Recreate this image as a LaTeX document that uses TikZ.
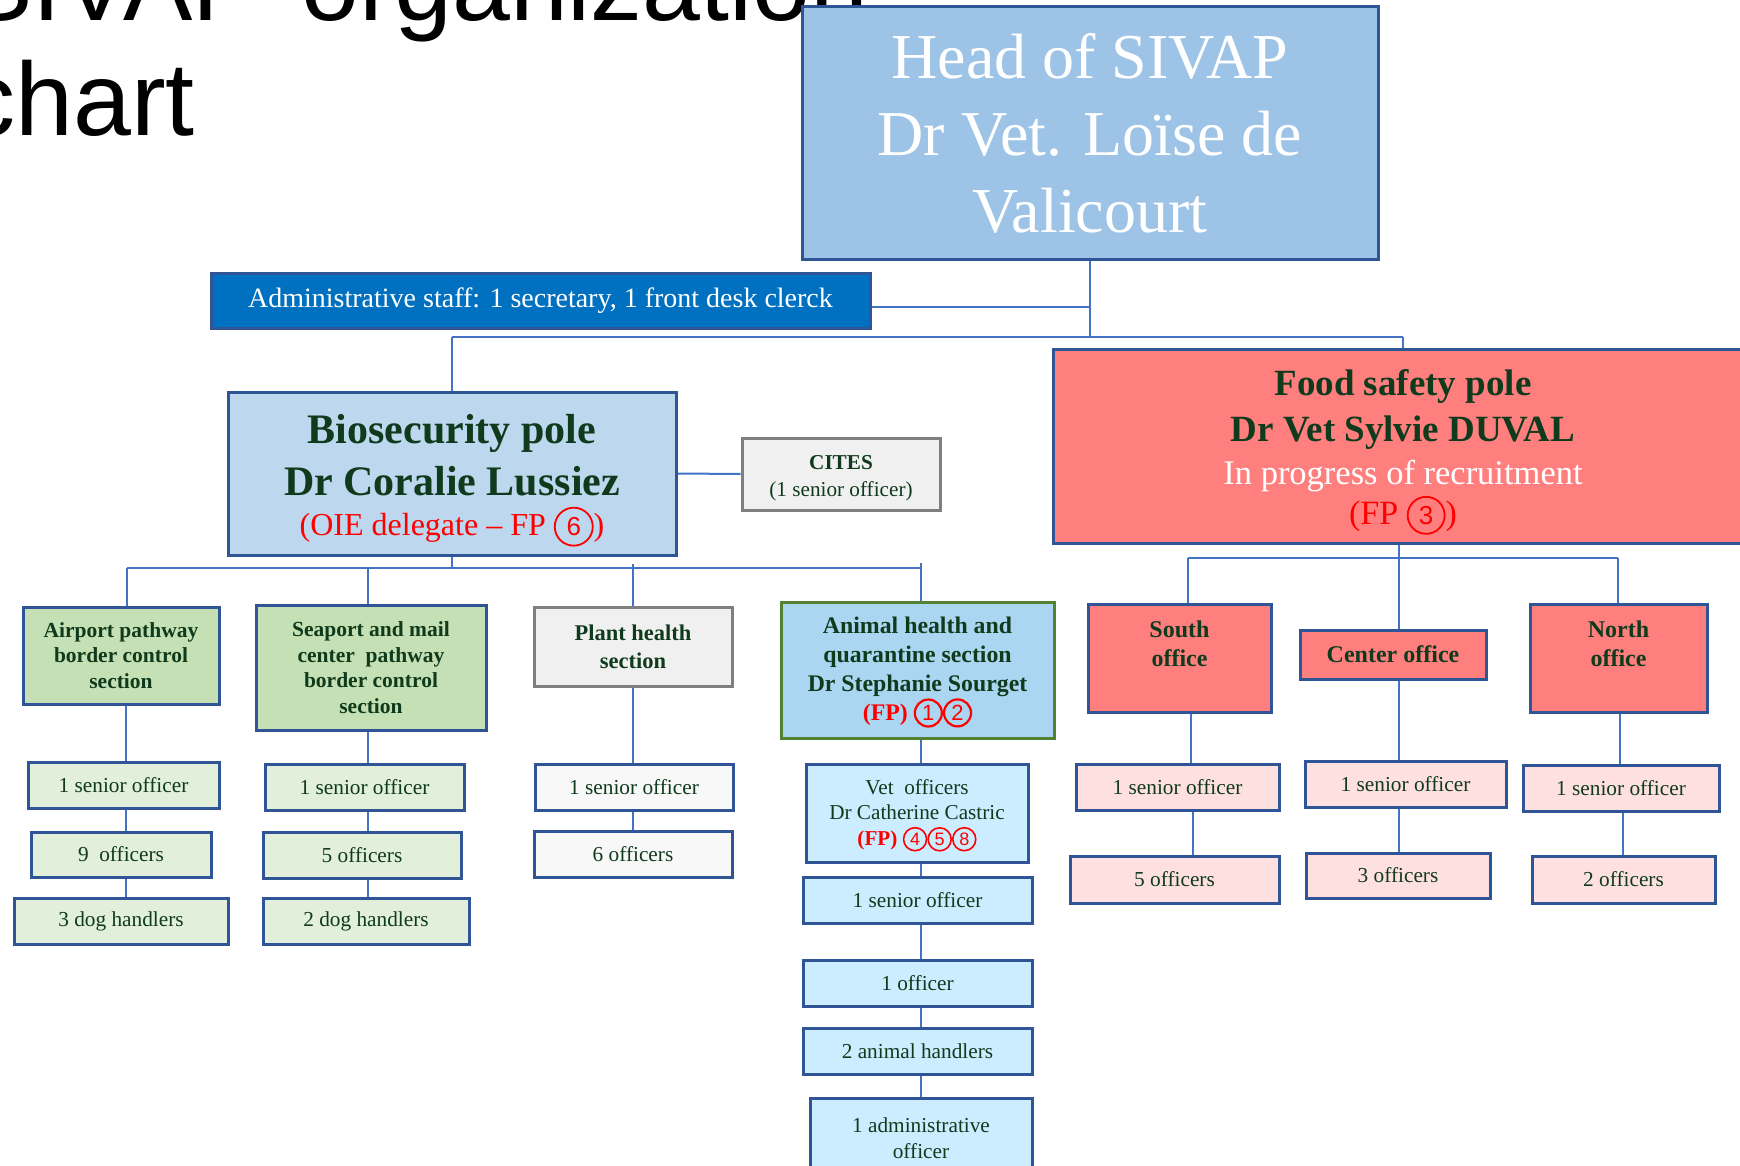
\documentclass[tikz,border=0pt]{standalone}
\usepackage{fontspec}
\setmainfont{Liberation Serif}
\newfontfamily\titlefont{Liberation Sans}
\usetikzlibrary{backgrounds}
\definecolor{connc}{HTML}{4472C4}
\definecolor{bord}{HTML}{2F5597}
\definecolor{headfill}{HTML}{9DC3E6}
\definecolor{adminfill}{HTML}{0070C0}
\definecolor{biofill}{HTML}{BDD7EE}
\definecolor{grayfill}{HTML}{F0F0F0}
\definecolor{grayb}{HTML}{7F7F7F}
\definecolor{foodfill}{HTML}{FF7F7F}
\definecolor{greenfill}{HTML}{C5E0B4}
\definecolor{lgreen}{HTML}{E2EFDA}
\definecolor{whitish}{HTML}{F8F8F8}
\definecolor{animfill}{HTML}{ABD6F1}
\definecolor{animb}{HTML}{548235}
\definecolor{vetfill}{HTML}{CCECFF}
\definecolor{pinkfill}{HTML}{FFE0E0}
\definecolor{tgreen}{HTML}{0F3A1C}
% circled digit: #1 diameter, #2 line width, #3 digit font size, #4 digit
\newcommand{\cdg}[4]{\tikz[baseline=(cdgn.base)]\node[draw=red, circle, line width=#2, inner sep=0pt, minimum size=#1, text=red, font=\titlefont\mdseries\fontsize{#3}{#3}\selectfont] (cdgn) {#4};}
\newcommand{\upr}[1]{\rule{0pt}{#1}}
\begin{document}
\begin{tikzpicture}[x=0.5pt,y=-0.5pt,
  box/.style={draw=bord, line width=1.5pt, inner sep=0pt, align=center, text=tgreen},
  wh/.style 2 args={minimum width={#1*0.5pt}, minimum height={#2*0.5pt}},
  conn/.style={draw=connc, line width=1pt},
  titlest/.style={inner sep=0pt, anchor=base west, font=\titlefont\fontsize{52}{60}\selectfont},
  sect/.style={box, fill=greenfill, font=\bfseries\fontsize{10.75}{12.75}\selectfont},
  small/.style={box, font=\fontsize{10.65}{13}\selectfont},
  office/.style={box, fill=foodfill, font=\bfseries\fontsize{12}{14.5}\selectfont}
]
\useasboundingbox (0,0) rectangle (1740,1166);

% title
\node[titlest] (t1) at (-37,21) {SIVAP\hspace{5.5pt} organization};
\node[titlest] (t2) at (-37,136) {chart};

% top level
\node[box, wh={576}{253}, fill=headfill, text=white, font=\fontsize{32}{38.5}\selectfont] (head) at (1090,133.5) {Head of SIVAP\\Dr Vet. Loïse de\\Valicourt};
\node[box, wh={659}{54}, fill=adminfill, text=white, font=\fontsize{14}{17}\selectfont] (admin) at (540.5,301) {Administrative staff: 1 secretary, 1 front desk clerck};

\node[box, wh={448}{163}, fill=biofill, font=\bfseries\fontsize{21}{26}\selectfont] (bio) at (452,473.5) {\upr{21.6pt}Biosecurity pole\\Dr Coralie Lussiez\\[-6pt]{\mdseries\fontsize{16}{20}\selectfont\color{red}(OIE delegate -- FP \cdg{19pt}{0.9pt}{13}{6})}};
\node[box, draw=grayb, wh={198}{72}, fill=grayfill, font=\fontsize{10.6}{13.5}\selectfont] (cites) at (841,474) {\upr{11.2pt}\textbf{CITES}\\(1 senior officer)};

\node[box, wh={700}{194}, fill=foodfill, font=\bfseries\fontsize{18.5}{23}\selectfont] (food) at (1403,446) {\upr{19pt}Food safety pole\\Dr Vet Sylvie DUVAL\\[-1.5pt]{\mdseries\fontsize{17.25}{20}\selectfont\color{white}In progress of recruitment}\\[-3pt]{\mdseries\fontsize{17}{20}\selectfont\color{red}(FP \cdg{18.5pt}{0.9pt}{13}{3})}};

% biosecurity sections
\node[sect, wh={196}{97}] (airport) at (121,655.5) {Airport pathway\\border control\\section};
\node[small, fill=lgreen, wh={191}{46}] (a1) at (123.5,785) {1 senior officer};
\node[small, fill=lgreen, wh={180}{45}] (a2) at (121,854.5) {9\ \ officers};
\node[small, fill=lgreen, wh={214}{46}] (a3) at (121,921) {3 dog handlers};

\node[sect, wh={230}{125}] (seaport) at (371,667.5) {Seaport and mail\\center\ \ pathway\\border control\\section};
\node[small, fill=lgreen, wh={199}{46}] (s1) at (364.5,787) {1 senior officer};
\node[small, fill=lgreen, wh={198}{46}] (s2) at (362,855) {5 officers};
\node[small, fill=lgreen, wh={206}{46}] (s3) at (366,921) {2 dog handlers};

\node[box, draw=grayb, fill=grayfill, wh={198}{79}, font=\bfseries\fontsize{11.25}{14}\selectfont] (plant) at (633,646.5) {Plant health\\section};
\node[small, fill=whitish, wh={198}{46}] (p1) at (634,787) {1 senior officer};
\node[small, fill=whitish, wh={198}{46}] (p2) at (633,854) {6 officers};

\node[box, draw=animb, fill=animfill, wh={273}{136}, font=\bfseries\fontsize{11.9}{14.5}\selectfont] (animal) at (917.5,670) {\upr{10.6pt}Animal health and\\quarantine section\\Dr Stephanie Sourget\\{\color{red}(FP) \cdg{13.5pt}{1.1pt}{11}{1}\cdg{13.5pt}{1.1pt}{11}{2}}};
\node[box, fill=vetfill, wh={222}{98}, font=\fontsize{10.6}{12.75}\selectfont] (vet) at (917,813) {\upr{10pt}Vet\ \ officers\\Dr Catherine Castric\\{\bfseries\color{red}(FP) \cdg{11.5pt}{0.8pt}{9}{4}\cdg{11.5pt}{0.8pt}{9}{5}\cdg{11.5pt}{0.8pt}{9}{8}}};
\node[small, fill=vetfill, wh={229}{46}] (an1) at (917.5,900) {1 senior officer};
\node[small, fill=vetfill, wh={229}{46}] (an2) at (917.5,983) {1 officer};
\node[small, fill=vetfill, wh={229}{46}] (an3) at (917.5,1051) {2 animal handlers};
\node[small, fill=vetfill, wh={222}{80}] (an4) at (921,1138) {1 administrative\\officer};

% food safety offices
\node[office, wh={183}{108}] (south) at (1179.5,658) {South\\office\\\mbox{}};
\node[office, wh={186}{49}] (center) at (1393,654.5) {Center office};
\node[office, wh={177}{108}] (north) at (1618.5,658) {North\\office\\\mbox{}};
\node[small, fill=pinkfill, wh={203}{46}] (so1) at (1177.5,787) {1 senior officer};
\node[small, fill=pinkfill, wh={209}{47}] (so2) at (1174.5,879.5) {5 officers};
\node[small, fill=pinkfill, wh={201}{46}] (ce1) at (1405.5,784) {1 senior officer};
\node[small, fill=pinkfill, wh={184}{45}] (ce2) at (1398,875.5) {3 officers};
\node[small, fill=pinkfill, wh={196}{46}] (no1) at (1621,788) {1 senior officer};
\node[small, fill=pinkfill, wh={183}{47}] (no2) at (1623.5,879.5) {2 officers};

% connectors
\coordinate (hb) at (1089,337);
\coordinate (adm) at (1089,307);
\coordinate (busL) at (452,337);
\coordinate (busR) at (1403,337);
\coordinate (bbL) at (127,568);
\coordinate (bbR) at (921,568);
\coordinate (vtop) at (920.5,563);
\coordinate (xa) at (126,0);
\coordinate (xs) at (368,0);
\coordinate (xp) at (633,0);
\coordinate (xv) at (920.5,0);
\coordinate (fbL) at (1188,558);
\coordinate (fbR) at (1618,558);
\coordinate (xc) at (1399,0);
\coordinate (xso) at (1191,0);
\coordinate (xso2) at (1193,0);
\coordinate (xno) at (1620,0);
\coordinate (xno2) at (1623,0);
\begin{scope}[on background layer]
\fill[white] (0,0) rectangle (1740,1166);
\draw[conn] (head.south |- hb) -- (head.south);
\draw[conn] (admin.east |- adm) -- (adm);
\draw[conn] (busL) -- (busR);
\draw[conn] (busL) -- (bio.north);
\draw[conn] (busR) -- (food.north);
\draw[conn] (bio.east) -- (cites.west);
\draw[conn] (bio.south) -- (bio.south |- bbL);
\draw[conn] (bbL) -- (bbR);
\draw[conn] (bbL) -- (airport.north -| bbL);
\draw[conn] (airport.south -| xa) -- (a1.north -| xa);
\draw[conn] (a1.south -| xa) -- (a2.north -| xa);
\draw[conn] (a2.south -| xa) -- (a3.north -| xa);
\draw[conn] (bbL -| xs) -- (seaport.north -| xs);
\draw[conn] (seaport.south -| xs) -- (s1.north -| xs);
\draw[conn] (s1.south -| xs) -- (s2.north -| xs);
\draw[conn] (s2.south -| xs) -- (s3.north -| xs);
\draw[conn] ([yshift=2pt]bbL -| xp) -- (plant.north -| xp);
\draw[conn] (plant.south -| xp) -- (p1.north -| xp);
\draw[conn] (p1.south -| xp) -- (p2.north -| xp);
\draw[conn] (vtop) -- (animal.north -| vtop);
\draw[conn] (animal.south -| xv) -- (vet.north -| xv);
\draw[conn] (vet.south -| xv) -- (an1.north -| xv);
\draw[conn] (an1.south -| xv) -- (an2.north -| xv);
\draw[conn] (an2.south -| xv) -- (an3.north -| xv);
\draw[conn] (an3.south -| xv) -- (an4.north -| xv);
\draw[conn] (food.south -| xc) -- (center.north -| xc);
\draw[conn] (fbL) -- (fbR);
\draw[conn] (fbL) -- (south.north -| fbL);
\draw[conn] (fbR) -- (north.north -| fbR);
\draw[conn] (south.south -| xso) -- (so1.north -| xso);
\draw[conn] (so1.south -| xso2) -- (so2.north -| xso2);
\draw[conn] (center.south -| xc) -- (ce1.north -| xc);
\draw[conn] (ce1.south -| xc) -- (ce2.north -| xc);
\draw[conn] (north.south -| xno) -- (no1.north -| xno);
\draw[conn] (no1.south -| xno2) -- (no2.north -| xno2);
\end{scope}
\end{tikzpicture}
\end{document}
